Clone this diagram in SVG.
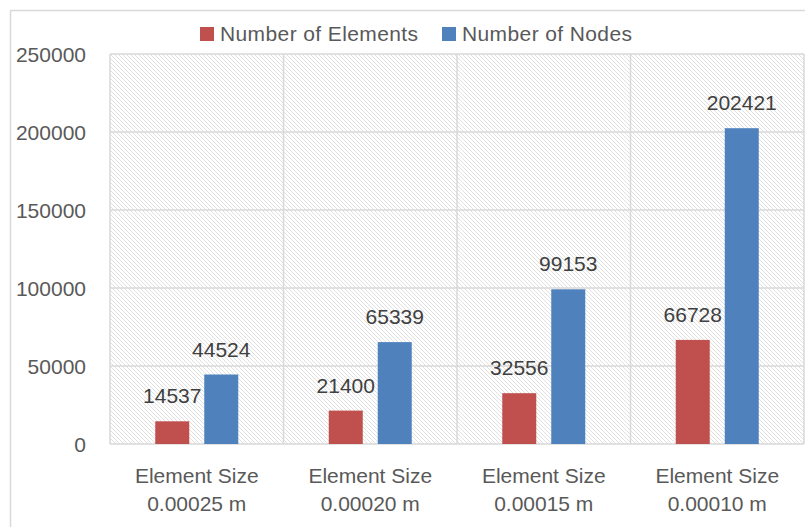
<svg xmlns="http://www.w3.org/2000/svg" width="805" height="527" viewBox="0 0 805 527">
<defs>
<pattern id="hatch" width="4" height="4" patternUnits="userSpaceOnUse">
<rect width="4" height="4" fill="#ffffff"/>
<path d="M-1,-1 L5,5 M-1,3 L1,5 M3,-1 L5,1" stroke="#dcdcdc" stroke-width="0.9"/>
</pattern>
</defs>
<style>
text{font-family:"Liberation Sans",Arial,sans-serif;font-size:21px;fill:#595959}
.ax{text-anchor:end}
.c{text-anchor:middle}
.dl{text-anchor:middle;fill:#404040}
.grid{stroke:#d9d9d9;stroke-width:1.5;fill:none}
.el{fill:#c0504d}
.nd{fill:#4f81bd}
</style>
<rect x="0" y="0" width="805" height="527" fill="#ffffff"/>
<rect x="10.5" y="10.5" width="800" height="530" fill="none" stroke="#d9d9d9" stroke-width="1.5"/>
<g id="plot">
<rect x="110" y="54" width="694" height="390" fill="url(#hatch)"/>
<path class="grid" d="M110,54 H804 M110,132 H804 M110,210 H804 M110,288 H804 M110,366 H804 M110,444 H804 M110,54 V444 M283.5,54 V444 M457,54 V444 M630.5,54 V444 M804,54 V444"/>
</g>
<g id="y-axis">
<text class="ax" x="86" y="62">250000</text>
<text class="ax" x="86" y="140">200000</text>
<text class="ax" x="86" y="218">150000</text>
<text class="ax" x="86" y="296">100000</text>
<text class="ax" x="86" y="374">50000</text>
<text class="ax" x="86" y="452">0</text>
</g>
<g id="legend">
<rect class="el" x="200" y="27" width="14" height="14"/>
<text x="220" y="41" textLength="198">Number of Elements</text>
<rect class="nd" x="442" y="27" width="14" height="14"/>
<text x="462" y="41" textLength="170">Number of Nodes</text>
</g>
<g id="cat1">
<rect class="el" x="155.25" y="421.3" width="34" height="22.7"/>
<rect class="nd" x="204.25" y="374.5" width="34" height="69.5"/>
<text class="dl" x="172.25" y="403.3">14537</text>
<text class="dl" x="221.25" y="356.5">44524</text>
<text class="c" x="196.75" y="483">Element Size</text>
<text class="c" x="196.75" y="511">0.00025 m</text>
</g>
<g id="cat2">
<rect class="el" x="328.75" y="410.6" width="34" height="33.4"/>
<rect class="nd" x="377.75" y="342.1" width="34" height="101.9"/>
<text class="dl" x="345.75" y="392.6">21400</text>
<text class="dl" x="394.75" y="324.1">65339</text>
<text class="c" x="370.25" y="483">Element Size</text>
<text class="c" x="370.25" y="511">0.00020 m</text>
</g>
<g id="cat3">
<rect class="el" x="502.25" y="393.2" width="34" height="50.8"/>
<rect class="nd" x="551.25" y="289.3" width="34" height="154.7"/>
<text class="dl" x="519.25" y="375.2">32556</text>
<text class="dl" x="568.25" y="271.3">99153</text>
<text class="c" x="543.75" y="483">Element Size</text>
<text class="c" x="543.75" y="511">0.00015 m</text>
</g>
<g id="cat4">
<rect class="el" x="675.75" y="339.9" width="34" height="104.1"/>
<rect class="nd" x="724.75" y="128.2" width="34" height="315.8"/>
<text class="dl" x="692.75" y="321.9">66728</text>
<text class="dl" x="741.75" y="110.2">202421</text>
<text class="c" x="717.25" y="483">Element Size</text>
<text class="c" x="717.25" y="511">0.00010 m</text>
</g>
</svg>
